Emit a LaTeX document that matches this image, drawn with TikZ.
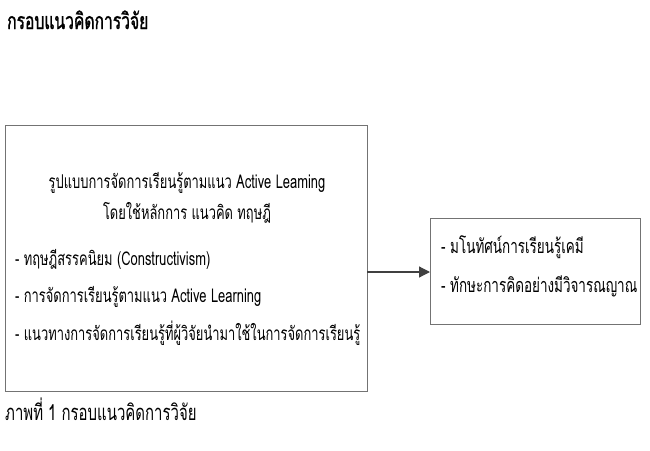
\documentclass[tikz,border=0pt]{standalone}
\usepackage{fontspec}
\newfontfamily\thai[Script=Thai,FakeStretch=0.68]{Loma}
\newfontfamily\thaib[Script=Thai,FakeStretch=0.68,FakeBold=1.2]{Loma}
\usetikzlibrary{arrows.meta}
\begin{document}
\begin{tikzpicture}[x=1pt,y=-1pt,
  frame/.style={draw=black!55,line width=1.4pt},
  txt/.style={inner sep=0pt,anchor=base west,font=\thai\fontsize{19}{22}\selectfont},
  rtxt/.style={inner sep=0pt,anchor=base west,font=\thai\fontsize{19.8}{23}\selectfont},
  ctxt/.style={inner sep=0pt,anchor=base,font=\thai\fontsize{19}{22}\selectfont},
  link/.style={draw=black!75,line width=1.2pt,-{Triangle[length=11pt,width=11pt]}}]
\useasboundingbox (0,0) rectangle (650,450);
\node[txt,font=\thaib\fontsize{23}{26}\selectfont] (title) at (7,29) {กรอบแนวคิดการวิจัย};
\node[frame,minimum width=362pt,minimum height=266pt,anchor=north west,inner sep=0pt] (b1) at (5,125) {};
\node[frame,minimum width=210pt,minimum height=106pt,anchor=north west,inner sep=0pt] (b2) at (430,218) {};
\node[ctxt] (h1) at (187,188) {รูปแบบการจัดการเรียนรู้ตามแนว Active Leaming};
\node[ctxt] (h2) at (187,219) {โดยใช้หลักการ แนวคิด ทฤษฎี};
\node[txt] (l1) at (15,265) {- ทฤษฎีสรรคนิยม (Constructivism)};
\node[txt] (l2) at (15,302) {- การจัดการเรียนรู้ตามแนว Active Learning};
\node[txt] (l3) at (15,340) {- แนวทางการจัดการเรียนรู้ที่ผู้วิจัยนำมาใช้ในการจัดการเรียนรู้};
\node[rtxt] (r1) at (441,253) {- มโนทัศน์การเรียนรู้เคมี};
\node[rtxt] (r2) at (441,292) {- ทักษะการคิดอย่างมีวิจารณญาณ};
\node[txt,font=\thai\fontsize{22}{25}\selectfont] (cap) at (5,420) {ภาพที่ 1 กรอบแนวคิดการวิจัย};
\coordinate (a1) at (367,272);
\coordinate (a2) at (430,272);
\draw[link] (a1) -- (a2);
\end{tikzpicture}
\end{document}
